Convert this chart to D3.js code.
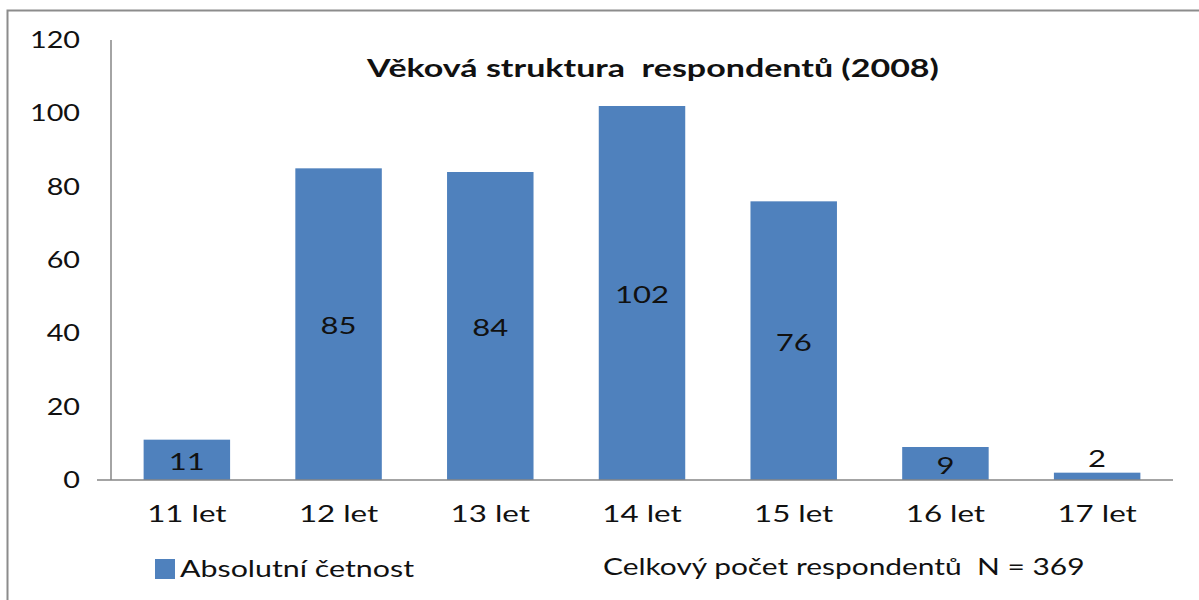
<!DOCTYPE html>
<html><head><meta charset="utf-8">
<script src="https://cdn.jsdelivr.net/npm/d3@7"></script>
<style>body{margin:0;background:#fff}svg{display:block}text{font-family:Lato,"Open Sans",sans-serif;fill:#111}</style>
</head><body>
<svg id="c" width="1199" height="600"></svg>
<script>
const categories = ["11 let","12 let","13 let","14 let","15 let","16 let","17 let"];
const values = [11,85,84,102,76,9,2];
const yTicks = [0,20,40,60,80,100,120];
const title = "Věková struktura  respondentů (2008)";
const seriesName = "Absolutní četnost";
const note = "Celkový počet respondentů  N = 369";

(function(){
const svg = d3.select("#c");
function stretch(sel, k){
  sel.each(function(){
    const w = this.getComputedTextLength();
    d3.select(this).attr("textLength", w*k).attr("lengthAdjust","spacingAndGlyphs");
  });
}
svg.append("rect").attr("x",7.5).attr("y",10.5).attr("width",1300).attr("height",700)
  .attr("fill","#fff").attr("stroke","#8c8c8c").attr("stroke-width",2);

const pl=111, pr=1173, pt=40, pb=480;
const x = d3.scaleBand().domain(categories).range([pl,pr]).paddingInner(0.43).paddingOuter(0.215);
const y = d3.scaleLinear().domain([0,120]).range([pb,pt]);

svg.append("line").attr("x1",pl).attr("x2",pl).attr("y1",pt).attr("y2",pb).attr("stroke","#868686").attr("stroke-width",1.5);
stretch(svg.selectAll(".yt").data(yTicks).join("text").attr("x",80).attr("y",d=>y(d)).attr("dy","0.35em")
  .attr("text-anchor","end").attr("font-size",23).text(d=>d), 1.25);

const bar = "#4F81BD";
svg.selectAll(".bar").data(values).join("rect")
  .attr("x",(d,i)=>x(categories[i])).attr("width",x.bandwidth())
  .attr("y",d=>y(d)).attr("height",d=>pb-y(d)).attr("fill",bar);

svg.append("line").attr("x1",pl-14).attr("x2",pr).attr("y1",pb).attr("y2",pb).attr("stroke","#868686").attr("stroke-width",1.5);

stretch(svg.selectAll(".vl").data(values).join("text")
  .attr("x",(d,i)=>x(categories[i])+x.bandwidth()/2)
  .attr("y",d=> d<5 ? y(d)-14 : (y(d)+pb)/2+2)
  .attr("dy","0.35em").attr("text-anchor","middle").attr("font-size",23).text(d=>d), 1.35);

stretch(svg.selectAll(".xl").data(categories).join("text")
  .attr("x",d=>x(d)+x.bandwidth()/2).attr("y",514).attr("dy","0.35em")
  .attr("text-anchor","middle").attr("font-size",23).text(d=>d), 1.36);

stretch(svg.append("text").attr("x",653).attr("y",68).attr("dy","0.35em").attr("text-anchor","middle")
  .attr("font-size",25).attr("font-weight","bold").style("white-space","pre").text(title), 1.36);

svg.append("rect").attr("x",155).attr("y",559).attr("width",20).attr("height",20).attr("fill",bar);
stretch(svg.append("text").attr("x",180).attr("y",569).attr("dy","0.35em").attr("font-size",23).text(seriesName), 1.32);
stretch(svg.append("text").attr("x",603).attr("y",567).attr("dy","0.35em").attr("font-size",23).style("white-space","pre").text(note), 1.3);
})();
</script>
</body></html>
